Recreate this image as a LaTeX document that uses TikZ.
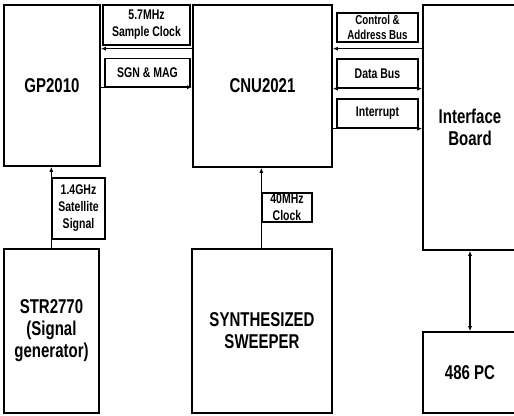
\documentclass[tikz,border=0pt]{standalone}
\usepackage{fontspec}
\setmainfont{Liberation Sans}[FakeStretch=0.75]
\usetikzlibrary{arrows.meta, positioning}

\tikzset{
    block/.style={draw, line width=1.6pt, align=center, inner sep=0pt,
        font=\fontsize{20}{22}\selectfont\bfseries},
    tag/.style={draw, line width=1.3pt, align=center, inner sep=0pt,
        font=\fontsize{14}{17}\selectfont\bfseries},
    link/.style={line width=1.2pt},
}

\begin{document}
\begin{tikzpicture}[x=1pt, y=-1pt, >={Latex[length=5pt,width=4pt]}]
    \useasboundingbox (0,0) rectangle (514,415);
    \clip (0,0) rectangle (514,415);

    % main blocks
    \node[block, minimum width=96pt, minimum height=161pt] (gp) at (52,85.5) {GP2010};
    \node[block, minimum width=139pt, minimum height=162pt] (cnu) at (262.5,86) {CNU2021};
    \node[block, minimum width=94pt, minimum height=245pt] (ifb) at (470,127.5) {Interface\\Board};
    \node[block, minimum width=95pt, minimum height=164pt] (str) at (51.5,331) {STR2770\\(Signal\\generator)};
    \node[block, minimum width=140pt, minimum height=164pt] (swp) at (262,331) {SYNTHESIZED\\SWEEPER};
    \node[block, minimum width=94pt, minimum height=81pt] (pc) at (470,372.5) {486 PC};

    % signal tags
    \node[tag, minimum width=87pt, minimum height=40pt] (clkA) at (146.5,25) {5.7MHz\\Sample Clock};
    \node[tag, minimum width=85pt, minimum height=28pt] (sgn) at (147.5,72.5) {SGN \& MAG};
    \node[tag, minimum width=81pt, minimum height=29pt, font=\fontsize{13}{15}\selectfont\bfseries] (cab) at (377.5,27.5) {Control \&\\Address Bus};
    \node[tag, minimum width=81pt, minimum height=29pt] (dbus) at (377.5,73.5) {Data Bus};
    \node[tag, minimum width=81pt, minimum height=29pt] (intr) at (377.5,113.5) {Interrupt};
    \node[tag, minimum width=53pt, minimum height=61pt] (sat) at (78.5,208.5) {1.4GHz\\Satellite\\Signal};
    \node[tag, minimum width=50pt, minimum height=29pt] (clkB) at (287,207.5) {40MHz\\Clock};

    % connections
    \draw[link, ->] ([yshift=-3pt]clkA.south -| cnu.west) -- ([yshift=-3pt]clkA.south -| gp.east);
    \draw[link, ->] (sgn.south -| gp.east) -- (sgn.south -| cnu.west);
    \draw[link, ->] ([yshift=-6pt]cab.south -| ifb.west) -- ([yshift=-6pt]cab.south -| cnu.east);
    \draw[link, <->] (dbus.south -| cnu.east) -- (dbus.south -| ifb.west);
    \draw[link, ->] (intr.south -| cnu.east) -- (intr.south -| ifb.west);
    \draw[link, ->] (str.north -| sat.west) -- (gp.south -| sat.west);
    \draw[link, ->] (swp.north -| clkB.west) -- (cnu.south -| clkB.west);
    \draw[link, <->] (ifb.south) -- (pc.north);
\end{tikzpicture}
\end{document}
